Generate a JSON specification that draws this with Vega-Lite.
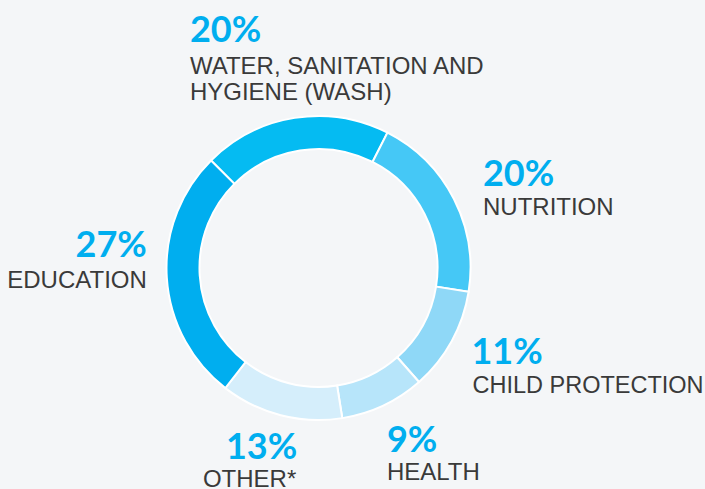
{
  "$schema": "https://vega.github.io/schema/vega-lite/v6.json",
  "width": 637,
  "height": 442,
  "autosize": {"type": "none"},
  "padding": {"left": 0, "top": 47, "right": 68, "bottom": 0},
  "background": "#F4F6F8",
  "view": {"stroke": null},
  "data": {
    "values": [
      {"idx": 1, "cat": "WASH", "value": 20, "pct": "20%", "name": "WATER, SANITATION AND\nHYGIENE (WASH)"},
      {"idx": 2, "cat": "NUTRITION", "value": 20, "pct": "20%", "name": "NUTRITION"},
      {"idx": 3, "cat": "CHILD PROTECTION", "value": 11, "pct": "11%", "name": "CHILD PROTECTION"},
      {"idx": 4, "cat": "HEALTH", "value": 9, "pct": "9%", "name": "HEALTH"},
      {"idx": 5, "cat": "OTHER", "value": 13, "pct": "13%", "name": "OTHER*"},
      {"idx": 6, "cat": "EDUCATION", "value": 27, "pct": "27%", "name": "EDUCATION"}
    ]
  },
  "encoding": {
    "theta": {"field": "value", "type": "quantitative", "stack": true, "scale": {"range": [-0.7854, 5.4978]}},
    "order": {"field": "idx", "type": "quantitative"},
    "detail": {"field": "cat", "type": "nominal"}
  },
  "layer": [
    {
      "mark": {"type": "arc", "innerRadius": 119, "outerRadius": 152, "stroke": "#FFFFFF", "strokeWidth": 2},
      "encoding": {
        "color": {
          "field": "cat", "type": "nominal", "legend": null,
          "scale": {
            "domain": ["WASH", "NUTRITION", "CHILD PROTECTION", "HEALTH", "OTHER", "EDUCATION"],
            "range": ["#05BBF2", "#45C8F6", "#8FD8F7", "#B7E5FA", "#D5EEFB", "#00AEEF"]
          }
        }
      }
    },
    {
      "mark": {"type": "text", "radius": 170, "align": "left", "baseline": "alphabetic", "dx": -102, "dy": -58, "font": "Lato", "fontWeight": "bold", "fontSize": 36, "fill": "#00AEEF"},
      "encoding": {"text": {"condition": {"test": "datum.cat === 'WASH'", "field": "pct", "type": "nominal"}, "value": ""}}
    },
    {
      "mark": {"type": "text", "radius": 170, "align": "left", "baseline": "alphabetic", "dx": -102, "dy": -26, "lineBreak": "\n", "lineHeight": 26, "font": "Liberation Sans", "fontSize": 24, "fill": "#3A3A3A"},
      "encoding": {"text": {"condition": {"test": "datum.cat === 'WASH'", "field": "name", "type": "nominal"}, "value": ""}}
    },
    {
      "mark": {"type": "text", "radius": 170, "align": "left", "baseline": "alphabetic", "dx": 13, "dy": -5, "font": "Lato", "fontWeight": "bold", "fontSize": 36, "fill": "#00AEEF"},
      "encoding": {"text": {"condition": {"test": "datum.cat === 'NUTRITION'", "field": "pct", "type": "nominal"}, "value": ""}}
    },
    {
      "mark": {"type": "text", "radius": 170, "align": "left", "baseline": "alphabetic", "dx": 13, "dy": 24, "font": "Liberation Sans", "fontSize": 24, "fill": "#3A3A3A"},
      "encoding": {"text": {"condition": {"test": "datum.cat === 'NUTRITION'", "field": "name", "type": "nominal"}, "value": ""}}
    },
    {
      "mark": {"type": "text", "radius": 170, "align": "left", "baseline": "alphabetic", "dx": 4, "dy": 14, "font": "Lato", "fontWeight": "bold", "fontSize": 36, "fill": "#00AEEF"},
      "encoding": {"text": {"condition": {"test": "datum.cat === 'CHILD PROTECTION'", "field": "pct", "type": "nominal"}, "value": ""}}
    },
    {
      "mark": {"type": "text", "radius": 170, "align": "left", "baseline": "alphabetic", "dx": 5, "dy": 43, "font": "Liberation Sans", "fontSize": 23.5, "fill": "#3A3A3A"},
      "encoding": {"text": {"condition": {"test": "datum.cat === 'CHILD PROTECTION'", "field": "name", "type": "nominal"}, "value": ""}}
    },
    {
      "mark": {"type": "text", "radius": 170, "align": "left", "baseline": "alphabetic", "dx": -4, "dy": 30, "font": "Lato", "fontWeight": "bold", "fontSize": 36, "fill": "#00AEEF"},
      "encoding": {"text": {"condition": {"test": "datum.cat === 'HEALTH'", "field": "pct", "type": "nominal"}, "value": ""}}
    },
    {
      "mark": {"type": "text", "radius": 170, "align": "left", "baseline": "alphabetic", "dx": -4, "dy": 58, "font": "Liberation Sans", "fontSize": 24, "fill": "#3A3A3A"},
      "encoding": {"text": {"condition": {"test": "datum.cat === 'HEALTH'", "field": "name", "type": "nominal"}, "value": ""}}
    },
    {
      "mark": {"type": "text", "radius": 170, "align": "right", "baseline": "alphabetic", "dx": 21, "dy": 26, "font": "Lato", "fontWeight": "bold", "fontSize": 36, "fill": "#00AEEF"},
      "encoding": {"text": {"condition": {"test": "datum.cat === 'OTHER'", "field": "pct", "type": "nominal"}, "value": ""}}
    },
    {
      "mark": {"type": "text", "radius": 170, "align": "right", "baseline": "alphabetic", "dx": 20, "dy": 54, "font": "Liberation Sans", "fontSize": 24, "fill": "#3A3A3A"},
      "encoding": {"text": {"condition": {"test": "datum.cat === 'OTHER'", "field": "name", "type": "nominal"}, "value": ""}}
    },
    {
      "mark": {"type": "text", "radius": 170, "align": "right", "baseline": "alphabetic", "dx": -2, "dy": -22, "font": "Lato", "fontWeight": "bold", "fontSize": 36, "fill": "#00AEEF"},
      "encoding": {"text": {"condition": {"test": "datum.cat === 'EDUCATION'", "field": "pct", "type": "nominal"}, "value": ""}}
    },
    {
      "mark": {"type": "text", "radius": 170, "align": "right", "baseline": "alphabetic", "dx": -2, "dy": 9, "font": "Liberation Sans", "fontSize": 24, "fill": "#3A3A3A"},
      "encoding": {"text": {"condition": {"test": "datum.cat === 'EDUCATION'", "field": "name", "type": "nominal"}, "value": ""}}
    }
  ]
}
